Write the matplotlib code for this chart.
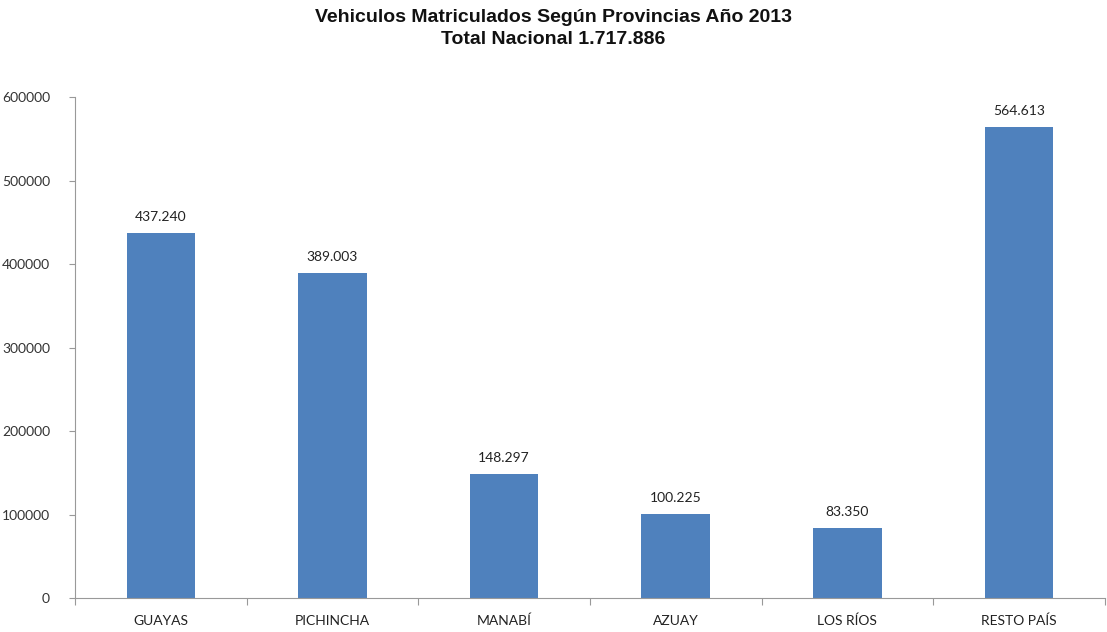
import matplotlib.pyplot as plt
import numpy as np

provincias = ["GUAYAS", "PICHINCHA", "MANABÍ", "AZUAY", "LOS RÍOS", "RESTO PAÍS"]
vehiculos = [437240, 389003, 148297, 100225, 83350, 564613]
etiquetas = ["437.240", "389.003", "148.297", "100.225", "83.350", "564.613"]

fig = plt.figure(figsize=(11.07, 6.32), dpi=100)
ax = fig.add_axes([0.0678, 0.0538, 0.9302, 0.7927])

x = np.arange(len(provincias))
ax.bar(x, vehiculos, width=0.4, color="#4F81BD")

for xi, v, t in zip(x, vehiculos, etiquetas):
    ax.text(xi, v + 12000, t, ha="center", va="bottom", fontsize=10,
            family="Lato", color="#222222")

ax.set_xlim(-0.5, len(provincias) - 0.5)
ax.set_ylim(0, 600000)
ax.set_yticks(np.arange(0, 600001, 100000))
ax.set_yticklabels([str(v) for v in range(0, 600001, 100000)], family="Lato", fontsize=10,
                   color="#333333")

# ticks de categoria en los bordes, etiquetas centradas
ax.set_xticks(np.arange(-0.5, len(provincias), 1))
ax.set_xticklabels([])
ax.set_xticks(x, minor=True)
ax.set_xticklabels(provincias, minor=True, family="Lato", fontsize=10, color="#222222")
ax.tick_params(axis="x", which="minor", length=0, pad=12)
ax.tick_params(axis="x", which="major", length=5, color="#999999")
ax.tick_params(axis="y", length=4, color="#999999", pad=14)

for s in ["top", "right"]:
    ax.spines[s].set_visible(False)
for s in ["left", "bottom"]:
    ax.spines[s].set_color("#999999")

fig.text(0.5, 0.986, "Vehiculos Matriculados Según Provincias Año 2013\nTotal Nacional 1.717.886",
         ha="center", va="top", fontsize=14, fontweight="bold", family="Liberation Sans",
         linespacing=1.4, color="#111111")

fig.savefig("out.png", dpi=100)
